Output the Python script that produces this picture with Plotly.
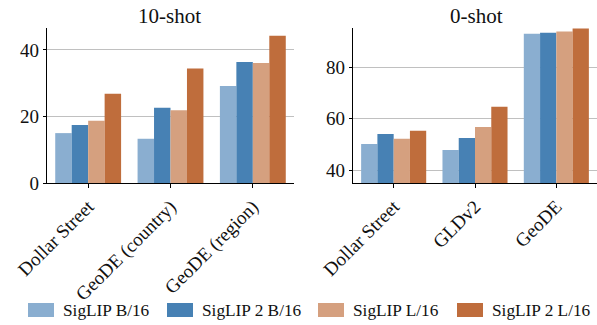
import plotly.graph_objects as go

series = ["SigLIP B/16", "SigLIP 2 B/16", "SigLIP L/16", "SigLIP 2 L/16"]
colors = ["#8aaed0", "#4781b4", "#d5a07f", "#bf6d3c"]

cats_10shot = ["Dollar Street", "GeoDE (country)", "GeoDE (region)"]
vals_10shot = [
    [15.0, 13.3, 29.2],
    [17.4, 22.6, 36.4],
    [18.7, 21.9, 36.1],
    [26.8, 34.4, 44.3],
]

cats_0shot = ["Dollar Street", "GLDv2", "GeoDE"]
vals_0shot = [
    [50.2, 47.9, 92.9],
    [54.1, 52.5, 93.3],
    [52.2, 56.8, 93.7],
    [55.3, 64.6, 94.9],
]

W, H = 597, 325
FONT = "Liberation Serif, Times New Roman, serif"

fig = go.Figure()
for i, name in enumerate(series):
    fig.add_trace(go.Bar(x=cats_10shot, y=vals_10shot[i], name=name,
                         marker=dict(color=colors[i], line=dict(width=0)),
                         xaxis="x", yaxis="y", showlegend=False))
    fig.add_trace(go.Bar(x=cats_0shot, y=vals_0shot[i], name=name,
                         marker=dict(color=colors[i], line=dict(width=0)),
                         xaxis="x2", yaxis="y2", showlegend=False))

ydom = [1 - 183 / H, 1 - 28 / H]
xaxis_common = dict(showline=True, linecolor="black", linewidth=1.2,
                    ticks="outside", ticklen=4, tickcolor="black",
                    tickangle=-45, showgrid=False, range=[-0.5, 2.5],
                    automargin=False,
                    tickfont=dict(family=FONT, size=19, color="#111"))
yaxis_common = dict(showline=True, linecolor="black", linewidth=1.2,
                    ticks="outside", ticklen=3, tickcolor="black",
                    showgrid=True, gridcolor="#c0c0c0", gridwidth=1,
                    zeroline=False, automargin=False,
                    tickfont=dict(family=FONT, size=19, color="#111"))

annotations = [
    dict(text="10-shot", x=170 / W, y=1 - 16 / H, xref="paper", yref="paper",
         showarrow=False, xanchor="center", yanchor="middle",
         font=dict(family=FONT, size=21, color="#111")),
    dict(text="0-shot", x=476 / W, y=1 - 16 / H, xref="paper", yref="paper",
         showarrow=False, xanchor="center", yanchor="middle",
         font=dict(family=FONT, size=21, color="#111")),
]

# manual legend
shapes = []
sw_x = [28, 167, 318, 457]
for i, name in enumerate(series):
    x0 = sw_x[i]
    shapes.append(dict(type="rect", xref="paper", yref="paper",
                       x0=x0 / W, x1=(x0 + 26) / W,
                       y0=1 - 317 / H, y1=1 - 303 / H,
                       fillcolor=colors[i], line=dict(width=0)))
    annotations.append(dict(text=name, x=(x0 + 33) / W, y=1 - 310 / H,
                            xref="paper", yref="paper", showarrow=False,
                            xanchor="left", yanchor="middle",
                            font=dict(family=FONT, size=17.3, color="#111")))

fig.update_layout(
    width=W, height=H,
    margin=dict(l=0, r=0, t=0, b=0, autoexpand=False),
    paper_bgcolor="white", plot_bgcolor="white",
    barmode="group", bargap=0.2, bargroupgap=0,
    xaxis=dict(domain=[47 / W, 294 / W], anchor="y", **xaxis_common),
    yaxis=dict(domain=ydom, anchor="x", range=[0, 46.6],
               tickvals=[0, 20, 40], **yaxis_common),
    xaxis2=dict(domain=[353 / W, 1.0], anchor="y2", **xaxis_common),
    yaxis2=dict(domain=ydom, anchor="x2", range=[35.1, 95.1],
                tickvals=[40, 60, 80], **yaxis_common),
    annotations=annotations,
    shapes=shapes,
    showlegend=False,
)

fig.write_html("out.html")
